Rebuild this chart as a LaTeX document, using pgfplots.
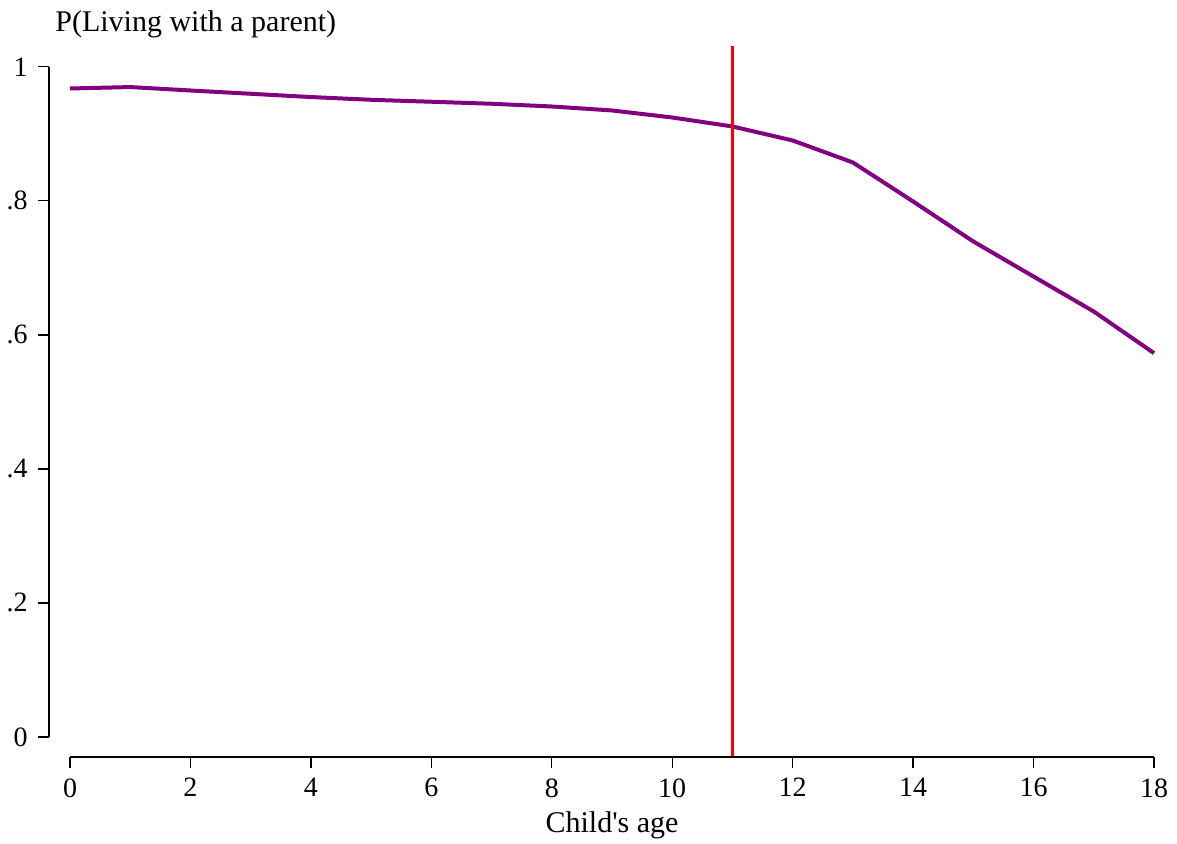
\documentclass[border=0pt]{standalone}
\usepackage{fontspec}
\setmainfont{Liberation Serif}
\newfontfamily\straightfont{Liberation Serif}
\usepackage{pgfplots}
\pgfplotsset{compat=1.18}
\definecolor{stpurple}{RGB}{128,0,128}
\definecolor{stred}{RGB}{255,0,0}

\begin{document}
\fontsize{15}{18}\selectfont
\begin{tikzpicture}
\begin{axis}[
  scale only axis,
  width=552.5pt, height=355.5pt,
  xmin=-0.349, xmax=18, ymin=-0.0299, ymax=1.031,
  axis lines*=left,
  axis line style={draw=none},
  clip=false,
  tick align=outside,
  major tick length=5.5pt,
  tick style={black, line width=0.7pt},
  xtick={0,2,...,18},
  ytick={0,0.2,0.4,0.6,0.8,1},
  yticklabels={0,.2,.4,.6,.8,1},
  /pgf/number format/assume math mode=true,
  tick label style={font=\fontsize{14}{17}\selectfont},
]
\addplot[stpurple, line width=2pt, line join=round] coordinates {
  (0,0.9676)(1,0.9697)(2,0.9646)(3,0.9597)(4,0.9548)(5,0.9507)
  (6,0.9478)(7,0.9448)(8,0.9407)(9,0.9348)(10,0.9243)(11,0.9109)
  (12,0.8900)(13,0.8572)(14,0.7990)(15,0.7393)(16,0.6870)(17,0.6348)
  (18,0.5727)
};
\addplot[stred, line width=1.1pt] coordinates {(11,-0.0299)(11,1.031)};
\draw[black, line width=0.75pt] (axis cs:-0.349,0) -- (axis cs:-0.349,1);
\draw[black, line width=0.75pt] (axis cs:0,-0.0299) -- (axis cs:18,-0.0299);
\end{axis}
\node[anchor=base west, inner sep=0pt] at (3pt,362.5pt) {P(Living with a parent)};
\node[anchor=base, inner sep=0pt] at (281.5pt,-38pt) {\straightfont Child's age};
\pgfresetboundingbox
\path (-24.5pt,-43.5pt) rectangle (564pt,378.5pt);
\end{tikzpicture}
\end{document}
